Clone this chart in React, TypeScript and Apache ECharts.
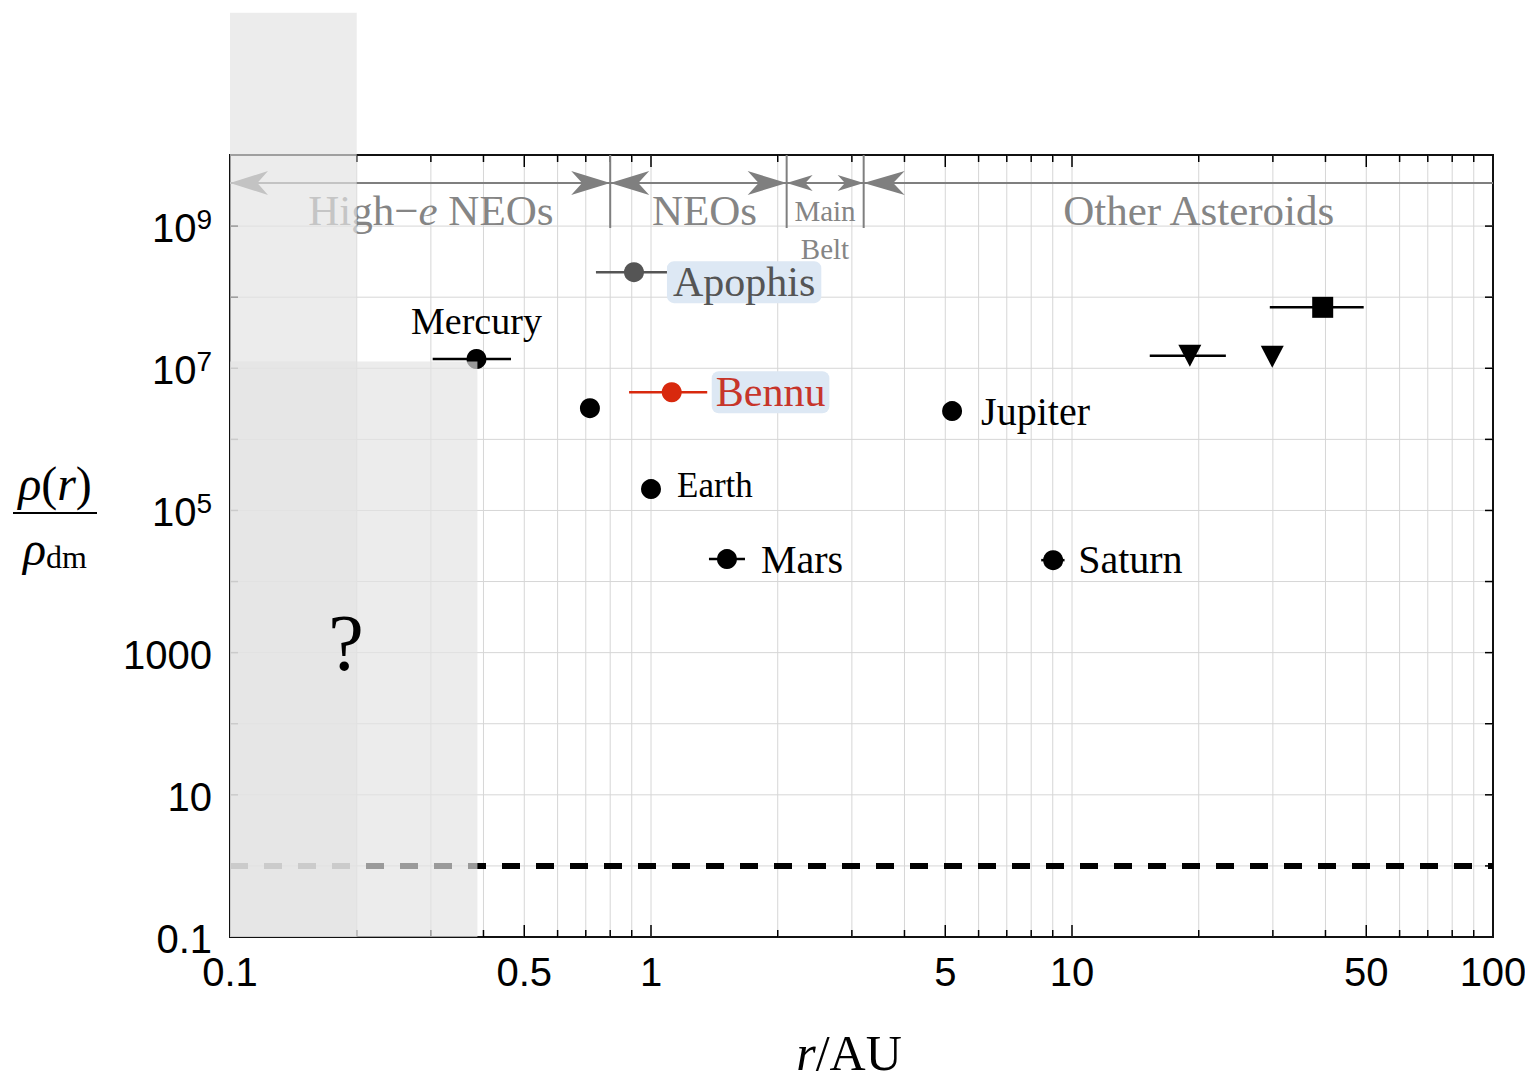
import React, { useEffect, useRef } from "react";
import * as echarts from "echarts";

// ---------- data ----------
const xExtent = [0.1, 100];
const yExtent = [0.1, 1e10];

const xTickValues = [0.2, 0.3, 0.4, 0.5, 0.6, 0.7, 0.8, 0.9, 1, 2, 3, 4, 5, 6, 7, 8, 9, 10, 20, 30, 40, 50, 60, 70, 80, 90];
const xLabelValues = [0.1, 0.5, 1, 5, 10, 50, 100];
const yTickValues = [1, 10, 100, 1e3, 1e4, 1e5, 1e6, 1e7, 1e8, 1e9];
const yLabelValues = [0.1, 10, 1000, 1e5, 1e7, 1e9];

const bodyNames = ["Mercury", "Venus", "Earth", "Mars", "Jupiter", "Saturn", "Uranus", "Neptune", "Pluto", "Apophis", "Bennu"];
const bodyR = [0.385, 0.716, 1.0, 1.515, 5.19, 9.02, 19.05, 29.9, 39.4, 0.911, 1.12];
const bodyRho = [1.35e7, 2.75e6, 2.0e5, 2.07e4, 2.5e6, 2.0e4, 1.5e7, 1.45e7, 7.2e7, 2.25e8, 4.6e6];
const bodyRLow: (number | null)[] = [0.303, null, null, 1.373, null, 8.45, 15.3, null, 29.5, 0.74, 0.887];
const bodyRHigh: (number | null)[] = [0.465, null, null, 1.672, null, 9.6, 23.2, null, 49.3, 1.098, 1.36];
const bodyLabel = ["Mercury", "", "Earth", "Mars", "Jupiter", "Saturn", "", "", "", "Apophis", "Bennu"];
const bodySymbol = ["circle", "circle", "circle", "circle", "circle", "circle", "triangle", "triangle", "rect", "circle", "circle"];

const baselineRho = 1;

const shadeR0 = [0.1, 0.1];
const shadeR1 = [0.2, 0.387];
const shadeRho0 = [0.1, 0.1];
const shadeRho1 = [1e12, 1.25e7];

const regionBounds = [0.8, 2.1, 3.2];
const regionLabels = ["High−e NEOs", "NEOs", "Main", "Belt", "Other Asteroids"];
const regionLabelR = [0.3, 1.34, 2.59, 2.59, 20];

// ---------- component ----------
export default function App() {
  const ref = useRef<HTMLDivElement>(null);

  useEffect(() => {
    if (!ref.current) return;
    const chart = echarts.init(ref.current, null, { renderer: "svg" });
    const serif = '"Liberation Serif", "Times New Roman", serif';
    const sans = '"Liberation Sans", Arial, sans-serif';
    const same = (a: number, b: number) => Math.abs(Math.log10(a) - Math.log10(b)) < 1e-6;

    const bodyColor = bodyNames.map((n) => (n === "Apophis" ? "#555555" : n === "Bennu" ? "#d8290e" : "#000000"));

    const labelCfg: Record<string, any> = {
      Mercury: { position: "top", distance: 9, fontSize: 38 },
      Earth: { position: "right", distance: 16, fontSize: 35, offset: [0, -4] },
      Mars: { position: "right", distance: 24, fontSize: 40 },
      Jupiter: { position: "right", distance: 19, fontSize: 40 },
      Saturn: { position: "right", distance: 15, fontSize: 40, offset: [0, -1] },
      Apophis: {
        position: "right", distance: 23, fontSize: 42, color: "#555555",
        backgroundColor: "#dde8f4", borderRadius: 7, padding: [0, 6, 0, 6], offset: [0, 10],
      },
      Bennu: {
        position: "right", distance: 30, fontSize: 42, color: "#c7352a",
        backgroundColor: "#dde8f4", borderRadius: 7, padding: [0, 4, 0, 4],
      },
    };

    const scatterData = bodyNames.map((name, i) => {
      const sym = bodySymbol[i];
      const cfg = bodyLabel[i] ? labelCfg[bodyLabel[i]] : null;
      return {
        name,
        value: [bodyR[i], bodyRho[i]],
        symbol: sym,
        symbolSize: sym === "circle" ? 20 : sym === "rect" ? 21 : [23, 22],
        symbolRotate: sym === "triangle" ? 180 : 0,
        itemStyle: { color: bodyColor[i], opacity: 1 },
        label: cfg
          ? { show: true, formatter: bodyLabel[i], fontFamily: serif, color: "#000", ...cfg }
          : { show: false },
      };
    });

    const errData = bodyNames
      .map((n, i) =>
        bodyRLow[i] == null
          ? null
          : { value: [bodyRLow[i], bodyRho[i], bodyRHigh[i]], itemStyle: { color: bodyColor[i] } }
      )
      .filter(Boolean);

    const shadeData = shadeR0.map((_, i) => [shadeR0[i], shadeRho0[i], shadeR1[i], shadeRho1[i]]);

    const fmtY = (v: number) => {
      const e = Math.round(Math.log10(v));
      if (e < 0) return "{b|0.1}";
      if (e >= 5) return `{b|10}{s|${e}}`;
      return `{b|${Math.pow(10, e)}}`;
    };

    const option: any = {
      animation: false,
      backgroundColor: "#ffffff",
      grid: {
        left: 230, right: 32, top: 155, bottom: 144,
        show: true, borderColor: "#111", borderWidth: 2, backgroundColor: "transparent",
      },
      xAxis: {
        type: "log", logBase: 10, min: xExtent[0], max: xExtent[1],
        axisLine: { show: false }, axisTick: { show: false }, axisLabel: { show: false }, splitLine: { show: false },
      },
      yAxis: {
        type: "log", logBase: 10, min: yExtent[0], max: yExtent[1],
        axisLine: { show: false }, axisTick: { show: false }, axisLabel: { show: false }, splitLine: { show: false },
      },
      series: [
        {
          // vertical grid lines and x ticks
          type: "custom", z: 1, silent: true,
          data: xTickValues.map((v) => [v, 1]),
          renderItem: (params: any, api: any) => {
            const v = api.value(0);
            const b = api.coord([v, yExtent[0]]);
            const t = api.coord([v, yExtent[1]]);
            const L = xLabelValues.some((l) => same(l, v)) ? 12 : 7;
            return {
              type: "group",
              children: [
                { type: "line", shape: { x1: b[0], y1: b[1], x2: t[0], y2: t[1] }, style: { stroke: "#d6d6d6", lineWidth: 1 } },
                { type: "line", shape: { x1: b[0], y1: b[1], x2: b[0], y2: b[1] - L }, style: { stroke: "#000", lineWidth: 1.5 } },
                { type: "line", shape: { x1: t[0], y1: t[1], x2: t[0], y2: t[1] + L }, style: { stroke: "#000", lineWidth: 1.5 } },
              ],
            };
          },
        },
        {
          // horizontal grid lines and y ticks (both sides)
          type: "custom", z: 1, silent: true,
          data: yTickValues.map((v) => [1, v]),
          renderItem: (params: any, api: any) => {
            const v = api.value(1);
            const l = api.coord([xExtent[0], v]);
            const r = api.coord([xExtent[1], v]);
            return {
              type: "group",
              children: [
                { type: "line", shape: { x1: l[0], y1: l[1], x2: r[0], y2: r[1] }, style: { stroke: "#d6d6d6", lineWidth: 1 } },
                { type: "line", shape: { x1: l[0], y1: l[1], x2: l[0] + 8, y2: l[1] }, style: { stroke: "#000", lineWidth: 1.5 } },
                { type: "line", shape: { x1: r[0], y1: r[1], x2: r[0] - 8, y2: r[1] }, style: { stroke: "#000", lineWidth: 1.5 } },
              ],
            };
          },
        },
        {
          // x tick labels
          type: "custom", z: 1, silent: true,
          data: xLabelValues.map((v) => [v, 1]),
          renderItem: (params: any, api: any) => {
            const v = api.value(0);
            const b = api.coord([v, yExtent[0]]);
            return {
              type: "text",
              x: b[0], y: b[1] + 15,
              style: {
                text: String(v), fill: "#000", font: `40px ${sans}`,
                align: "center", verticalAlign: "top", textAlign: "center", textVerticalAlign: "top",
              },
            };
          },
        },
        {
          // y tick labels
          type: "custom", z: 1, silent: true,
          data: yLabelValues.map((v) => [1, v]),
          renderItem: (params: any, api: any) => {
            const v = api.value(1);
            const l = api.coord([xExtent[0], v]);
            return {
              type: "text",
              x: l[0] - 18, y: l[1] + 2,
              style: {
                text: fmtY(v),
                rich: {
                  b: { fontSize: 40, fontFamily: sans, fill: "#000", color: "#000", lineHeight: 46 },
                  s: { fontSize: 28, fontFamily: sans, fill: "#000", color: "#000", lineHeight: 22, verticalAlign: "top" },
                },
                align: "right", verticalAlign: "middle", textAlign: "right", textVerticalAlign: "middle",
              },
            };
          },
        },
        {
          // baseline rho = rho_dm
          type: "line", z: 3, silent: true, symbol: "none",
          data: [[xExtent[0], baselineRho], [xExtent[1], baselineRho]],
          lineStyle: { color: "#000", width: 6, type: [18, 16], cap: "butt", opacity: 1 },
        },
        {
          // region annotations
          type: "custom", z: 5, silent: true,
          data: [[1, 1]],
          renderItem: (params: any, api: any) => {
            const tl = api.coord([xExtent[0], yExtent[1]]);
            const tr = api.coord([xExtent[1], yExtent[1]]);
            const top = tl[1];
            const ly = top + 28;
            const gray = "#7f7f7f";
            const xb = regionBounds.map((r) => api.coord([r, yExtent[1]])[0]);
            const heads = [
              { x: tl[0], dir: -1, L: 38, H: 12 },
              { x: xb[0], dir: 1, L: 39, H: 12 },
              { x: xb[0], dir: -1, L: 39, H: 12 },
              { x: xb[1], dir: 1, L: 39, H: 12 },
              { x: xb[1], dir: -1, L: 26, H: 8 },
              { x: xb[2], dir: 1, L: 26, H: 8 },
              { x: xb[2], dir: -1, L: 41, H: 12 },
            ];
            const children: any[] = [
              { type: "line", shape: { x1: tl[0], y1: ly, x2: tr[0], y2: ly }, style: { stroke: gray, lineWidth: 2 } },
            ];
            xb.forEach((x) =>
              children.push({ type: "line", shape: { x1: x, y1: top, x2: x, y2: top + 73 }, style: { stroke: gray, lineWidth: 2 } })
            );
            heads.forEach((h) =>
              children.push({
                type: "polygon",
                shape: {
                  points: [
                    [h.x, ly],
                    [h.x - h.dir * h.L, ly - h.H],
                    [h.x - h.dir * 0.72 * h.L, ly],
                    [h.x - h.dir * h.L, ly + h.H],
                  ],
                },
                style: { fill: gray },
              })
            );
            regionLabels.forEach((lab, i) => {
              const x = api.coord([regionLabelR[i], yExtent[1]])[0];
              const small = lab === "Main" || lab === "Belt";
              const y = lab === "Belt" ? top + 94 : lab === "Main" ? top + 56 : top + 55;
              const fs = small ? 29 : 43;
              const text = lab.includes("−e")
                ? lab.replace("−e", "−{i|e}").replace(/^([^{]+)/, "{n|$1}").replace(/\}([^{]+)$/, "}{n|$1}")
                : `{n|${lab}}`;
              children.push({
                type: "text",
                x, y,
                style: {
                  text,
                  rich: {
                    n: { fontFamily: serif, fontSize: fs, lineHeight: fs, fill: "#858585", color: "#858585" },
                    i: { fontFamily: serif, fontStyle: "italic", fontSize: fs, lineHeight: fs, fill: "#858585", color: "#858585" },
                  },
                  fill: "#858585",
                  align: "center", verticalAlign: "middle", textAlign: "center", textVerticalAlign: "middle",
                },
              });
            });
            return { type: "group", children };
          },
        },
        {
          // horizontal ranges (error bars)
          type: "custom", z: 6, silent: true,
          data: errData,
          renderItem: (params: any, api: any) => {
            const lo = api.coord([api.value(0), api.value(1)]);
            const hi = api.coord([api.value(2), api.value(1)]);
            return {
              type: "line",
              shape: { x1: lo[0], y1: lo[1], x2: hi[0], y2: hi[1] },
              style: { stroke: api.visual("color"), lineWidth: 2.5 },
            };
          },
        },
        {
          type: "scatter", z: 7, silent: true,
          itemStyle: { opacity: 1 },
          data: scatterData,
        },
        {
          // shaded regions
          type: "custom", z: 10, silent: true,
          data: shadeData,
          renderItem: (params: any, api: any) => {
            const p0 = api.coord([api.value(0), api.value(1)]);
            const p1 = api.coord([api.value(2), api.value(3)]);
            return {
              type: "rect",
              shape: { x: p0[0], y: p1[1], width: p1[0] - p0[0], height: p0[1] - p1[1] },
              style: { fill: "rgba(227,227,227,0.68)" },
            };
          },
        },
      ],
      graphic: [
        {
          type: "text", x: 55, y: 483, z: 100,
          style: {
            text: "{i|ρ}{n|(}{i|r}{n|)}",
            rich: {
              i: { fontFamily: serif, fontStyle: "italic", fontSize: 48, fill: "#000", color: "#000" },
              n: { fontFamily: serif, fontSize: 48, fill: "#000", color: "#000" },
            },
            align: "center", verticalAlign: "middle", textAlign: "center", textVerticalAlign: "middle",
          },
        },
        {
          type: "line", z: 100,
          shape: { x1: 13, y1: 513, x2: 97, y2: 513 },
          style: { stroke: "#000", lineWidth: 2 },
        },
        {
          type: "text", x: 55, y: 548, z: 100,
          style: {
            text: "{i|ρ}{s|dm}",
            rich: {
              i: { fontFamily: serif, fontStyle: "italic", fontSize: 48, lineHeight: 50, fill: "#000", color: "#000" },
              s: { fontFamily: serif, fontSize: 32, lineHeight: 30, verticalAlign: "bottom", fill: "#000", color: "#000" },
            },
            align: "center", verticalAlign: "middle", textAlign: "center", textVerticalAlign: "middle",
          },
        },
        {
          type: "text", x: 849, y: 1053, z: 100,
          style: {
            text: "{i|r}{n|/AU}",
            rich: {
              i: { fontFamily: serif, fontStyle: "italic", fontSize: 50, fill: "#000", color: "#000" },
              n: { fontFamily: serif, fontSize: 50, fill: "#000", color: "#000" },
            },
            align: "center", verticalAlign: "middle", textAlign: "center", textVerticalAlign: "middle",
          },
        },
        {
          type: "text", x: 346, y: 643, z: 100,
          style: {
            text: "?", fill: "#000", font: `80px ${serif}`,
            align: "center", verticalAlign: "middle", textAlign: "center", textVerticalAlign: "middle",
          },
        },
      ],
    };

    chart.setOption(option);
    return () => chart.dispose();
  }, []);

  return <div ref={ref} style={{ position: "fixed", left: 0, top: 0, width: 1525, height: 1081 }} />;
}
